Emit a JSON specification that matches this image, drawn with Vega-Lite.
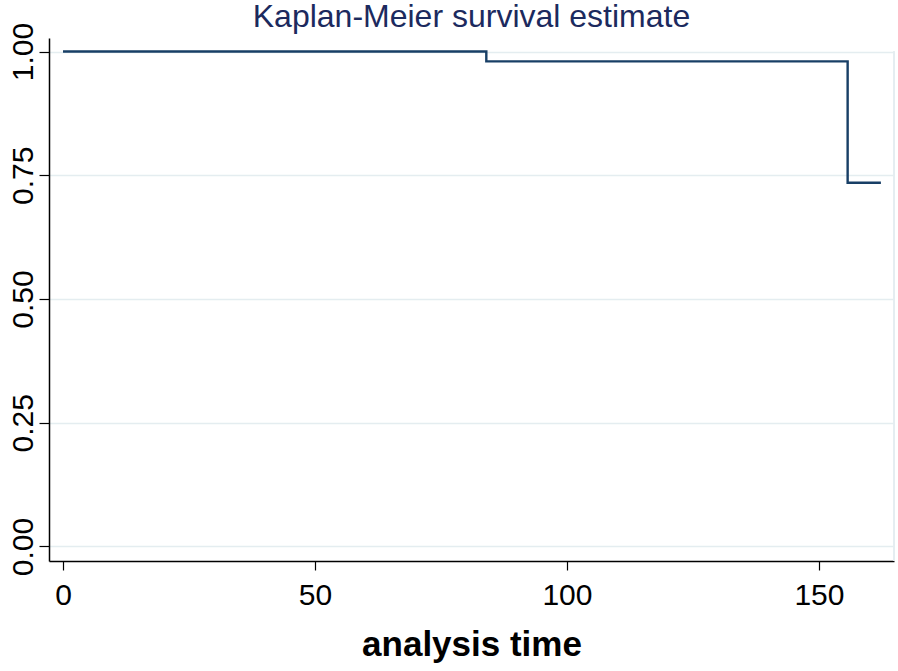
{
  "$schema": "https://vega.github.io/schema/vega-lite/v6.json",
  "width": 845,
  "height": 523,
  "autosize": {"type": "none"},
  "padding": {"left": 49, "top": 38, "right": 4, "bottom": 110},
  "background": "white",
  "config": {
    "view": {"stroke": null},
    "font": "Liberation Sans"
  },
  "title": {
    "text": "Kaplan-Meier survival estimate",
    "font": "Liberation Sans",
    "fontSize": 32,
    "fontWeight": "normal",
    "color": "#1c2a5e",
    "anchor": "middle",
    "frame": "group",
    "baseline": "alphabetic",
    "offset": 0,
    "dy": 37
  },
  "data": {
    "values": [
      {"time": 0, "survival": 1.0},
      {"time": 84, "survival": 0.98},
      {"time": 155.7, "survival": 0.735},
      {"time": 162.3, "survival": 0.735}
    ]
  },
  "layer": [
    {
      "mark": {"type": "rule", "color": "#e4edf0", "strokeWidth": 1.5},
      "encoding": {
        "x": {"datum": 164.9, "type": "quantitative"},
        "y": {"datum": -0.0293, "type": "quantitative"},
        "y2": {"datum": 1.0}
      }
    },
    {
      "mark": {"type": "line", "interpolate": "step-after", "color": "#183f66", "strokeWidth": 2.4},
      "encoding": {
        "x": {
          "field": "time",
          "type": "quantitative",
          "scale": {"domain": [-2.78, 164.9], "nice": false, "zero": false},
          "axis": {
            "values": [0, 50, 100, 150],
            "grid": false,
            "title": "analysis time",
            "titleFont": "Liberation Sans",
            "titleFontSize": 35,
            "titleFontWeight": "bold",
            "titleColor": "black",
            "titleBaseline": "alphabetic",
            "titleY": 94,
            "labelFont": "Liberation Sans",
            "labelFontSize": 30,
            "labelColor": "black",
            "labelPadding": 10,
            "labelFlush": false,
            "tickSize": 9,
            "tickColor": "black",
            "tickWidth": 1.2,
            "domainColor": "black",
            "domainWidth": 1.5
          }
        },
        "y": {
          "field": "survival",
          "type": "quantitative",
          "scale": {"domain": [-0.0293, 1.0273], "nice": false, "zero": false},
          "axis": {
            "values": [0, 0.25, 0.5, 0.75, 1.0],
            "format": ".2f",
            "grid": true,
            "gridColor": "#e4edf0",
            "gridWidth": 1.5,
            "title": null,
            "labelFont": "Liberation Sans",
            "labelFontSize": 30,
            "labelColor": "black",
            "labelAngle": -90,
            "labelAlign": "center",
            "labelBaseline": "alphabetic",
            "labelPadding": 7,
            "labelFlush": false,
            "tickSize": 10,
            "tickColor": "black",
            "tickWidth": 1.2,
            "domainColor": "black",
            "domainWidth": 1.5
          }
        }
      }
    }
  ]
}
